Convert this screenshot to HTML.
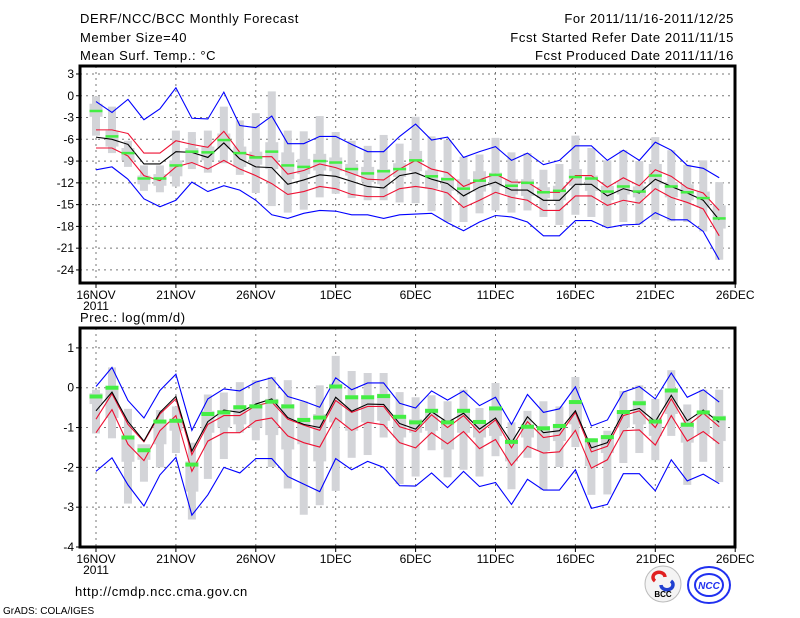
<!DOCTYPE html>
<html><head><meta charset="utf-8">
<style>
body{margin:0;background:#fff;}
svg{display:block;font-family:"Liberation Sans",sans-serif;}
text{font-size:12px;fill:#000;}
.hd{font-size:13px;letter-spacing:0.6px;}
</style></head>
<body>
<svg id="chart" width="800" height="618" viewBox="0 0 800 618">
<g>
<text class="hd" x="80" y="23">DERF/NCC/BCC Monthly Forecast</text>
<text class="hd" x="80" y="42">Member Size=40</text>
<text class="hd" x="80" y="60">Mean Surf. Temp.: °C</text>
<text class="hd" x="734" y="23" text-anchor="end">For 2011/11/16-2011/12/25</text>
<text class="hd" x="734" y="42" text-anchor="end">Fcst Started Refer Date 2011/11/15</text>
<text class="hd" x="734" y="60" text-anchor="end">Fcst Produced Date 2011/11/16</text>
<text class="hd" x="80" y="322">Prec.: log(mm/d)</text>
<text x="75" y="596" style="font-size:13px;letter-spacing:0.6px">http://cmdp.ncc.cma.gov.cn</text>
<text x="3" y="614" style="font-size:10px">GrADS: COLA/IGES</text>
</g>
<g>
<circle cx="663" cy="584" r="18" fill="#f4f4f4" stroke="#bbb"/>
<path d="M655 581 a6 5 0 1 1 10 -4" fill="none" stroke="#e02020" stroke-width="3.5"/>
<path d="M671 581 a6 5 0 1 1 -10 4" fill="none" stroke="#2040d0" stroke-width="3.5"/>
<text x="663" y="597" text-anchor="middle" style="font-size:8px;font-weight:bold">BCC</text>
<ellipse cx="709" cy="585" rx="21" ry="18" fill="#fff" stroke="#2030f0" stroke-width="2"/>
<ellipse cx="709" cy="585" rx="14" ry="11" fill="none" stroke="#2030f0" stroke-width="2"/>
<text x="709" y="589" text-anchor="middle" style="font-size:10px;font-weight:bold;fill:#2030f0;font-style:italic">NCC</text>
</g>
</svg>
<script>
// ---- Top panel data (°C) ----
const days = ["16NOV","21NOV","26NOV","1DEC","6DEC","11DEC","16DEC","21DEC","26DEC"];
const tTicks = [3,0,-3,-6,-9,-12,-15,-18,-21,-24];
const tMax = [-0.8,-2.3,-0.5,-3.3,-1.8,1.1,-3.1,-3.2,0.5,-4.1,-4.4,-2.8,-6.6,-6.6,-5.6,-5.6,-6.7,-7.7,-7.7,-5.6,-3.9,-6.1,-5.7,-8.5,-7.7,-7.0,-8.9,-7.9,-9.5,-8.9,-6.9,-6.9,-8.9,-7.5,-8.9,-6.4,-7.5,-9.6,-10.0,-11.3];
const tMin = [-10.2,-9.8,-11.5,-14.2,-15.3,-14.4,-11.9,-13.2,-12.4,-13.0,-14.4,-16.4,-16.9,-16.2,-15.8,-15.9,-16.4,-16.4,-16.9,-16.4,-16.3,-16.2,-17.5,-18.6,-17.4,-16.5,-16.7,-17.4,-19.3,-19.3,-17.2,-17.2,-18.2,-17.8,-17.7,-16.1,-17.1,-17.1,-18.7,-22.6];
const tMean = [-5.7,-6.0,-6.7,-9.4,-9.4,-7.7,-7.8,-8.5,-6.5,-8.7,-9.8,-9.9,-12.2,-11.6,-10.9,-11.1,-11.8,-12.5,-12.7,-11.0,-10.6,-11.5,-12.1,-13.8,-12.6,-11.9,-13.0,-13.0,-14.4,-14.4,-12.2,-12.2,-13.8,-12.8,-13.4,-11.5,-12.5,-13.4,-14.4,-17.1];
const tUp = [-4.7,-4.7,-5.2,-7.9,-7.9,-6.2,-6.7,-7.1,-4.9,-7.8,-8.4,-8.4,-10.8,-10.3,-9.4,-9.9,-10.7,-11.5,-11.6,-10.1,-8.9,-10.1,-10.6,-12.5,-11.6,-10.8,-11.9,-11.9,-13.3,-13.3,-11.0,-11.0,-12.6,-11.3,-12.4,-10.2,-11.1,-12.7,-13.4,-15.8];
const tLo = [-7.2,-7.2,-8.3,-11.0,-11.7,-9.8,-9.2,-10.1,-8.9,-10.1,-11.0,-12.1,-13.6,-13.2,-12.5,-12.8,-13.6,-13.9,-13.9,-12.8,-12.5,-12.8,-13.4,-15.4,-14.4,-13.3,-14.0,-14.4,-15.8,-15.8,-13.8,-13.8,-15.1,-14.4,-14.8,-12.8,-14.0,-14.7,-15.6,-19.3];
const tGreen = [-2.1,-5.6,-7.9,-11.4,-11.4,-9.6,-7.7,-7.8,-6.1,-7.9,-8.5,-7.7,-9.6,-9.8,-9.0,-9.2,-10.1,-10.7,-10.4,-10.1,-8.9,-11.1,-11.5,-12.8,-11.7,-10.9,-12.4,-12.0,-13.3,-13.1,-11.2,-11.4,-13.2,-12.5,-13.2,-11.0,-12.5,-13.3,-14.1,-16.9];
const tBarHi = [-0.1,-1.5,-6.2,-9.6,-9.6,-4.8,-5.0,-4.8,-1.5,-3.4,-2.4,0.6,-4.8,-4.9,-2.8,-5.0,-6.2,-6.9,-5.4,-6.6,-2.9,-5.6,-6.1,-8.4,-8.1,-5.8,-7.8,-7.9,-10.2,-9.4,-5.5,-7.2,-8.9,-7.5,-9.0,-5.7,-7.5,-9.5,-8.9,-11.9];
const tBarLo = [-5.5,-7.9,-9.8,-13.1,-13.3,-12.5,-10.1,-10.6,-9.3,-10.9,-13.4,-15.2,-16.1,-15.7,-14.0,-13.5,-14.1,-14.4,-14.4,-14.7,-14.8,-15.9,-17.4,-17.4,-16.2,-15.8,-16.1,-15.8,-16.7,-17.8,-16.4,-16.7,-18.1,-17.4,-17.7,-17.1,-17.3,-17.4,-18.7,-22.6];
const tBoxHi = [-1.1,-4.8,-7.2,-11.0,-10.8,-8.9,-7.2,-7.0,-5.2,-7.0,-7.7,-6.4,-7.8,-8.7,-8.0,-8.5,-9.4,-9.8,-10.1,-9.3,-7.6,-10.3,-11.2,-11.5,-10.4,-10.6,-11.5,-11.5,-12.6,-12.4,-10.1,-11.0,-12.4,-11.7,-12.5,-9.4,-11.9,-12.2,-13.2,-15.1];
const tBoxLo = [-2.9,-7.0,-8.9,-12.2,-12.4,-11.1,-9.4,-8.9,-7.3,-9.8,-9.5,-10.1,-11.5,-10.8,-10.3,-10.4,-11.0,-11.9,-12.2,-11.2,-10.4,-12.8,-13.1,-13.6,-13.2,-12.5,-13.6,-13.8,-14.1,-14.4,-12.4,-13.1,-14.4,-13.6,-14.0,-12.2,-14.0,-14.4,-15.4,-18.3];
// ---- Bottom panel data (log mm/d) ----
const pTicks = [1,0,-1,-2,-3,-4];
const pMax = [0.03,0.51,-0.32,-0.76,-0.07,0.34,-1.07,-0.28,-0.03,-0.08,0.14,0.25,-0.22,-0.34,-0.49,0.25,-0.05,0.12,0.12,-0.39,-0.51,-0.08,-0.31,-0.08,-0.45,-0.24,-0.92,-0.17,-0.62,-0.53,0.02,-0.96,-0.81,-0.11,0.03,-0.28,0.37,-0.24,-0.05,-0.36];
const pMin = [-2.10,-1.76,-2.44,-2.97,-2.19,-1.75,-3.20,-2.69,-2.00,-2.14,-1.78,-1.78,-2.23,-2.42,-2.61,-1.78,-2.06,-1.85,-2.00,-2.46,-2.47,-2.14,-2.51,-2.10,-2.48,-2.38,-2.93,-2.30,-2.57,-2.57,-2.06,-3.03,-2.93,-2.16,-2.16,-2.59,-1.81,-2.34,-2.17,-2.41];
const pMean = [-0.58,-0.11,-0.85,-1.34,-0.62,-0.22,-1.59,-0.85,-0.56,-0.62,-0.41,-0.28,-0.75,-0.92,-1.00,-0.24,-0.59,-0.41,-0.42,-0.90,-1.04,-0.60,-0.87,-0.64,-1.04,-0.76,-1.38,-0.73,-1.13,-1.08,-0.58,-1.51,-1.38,-0.62,-0.52,-0.85,-0.19,-0.83,-0.56,-0.87];
const pUp = [-0.79,-0.15,-0.92,-1.36,-0.66,-0.28,-1.68,-0.92,-0.70,-0.70,-0.45,-0.36,-0.79,-0.94,-1.07,-0.32,-0.62,-0.47,-0.47,-0.98,-1.10,-0.68,-1.00,-0.70,-1.13,-0.81,-1.51,-0.85,-1.25,-1.19,-0.62,-1.61,-1.47,-0.70,-0.58,-1.00,-0.28,-0.96,-0.64,-0.98];
const pLo = [-1.13,-0.55,-1.42,-1.83,-1.08,-0.70,-2.10,-1.34,-1.13,-1.13,-0.83,-0.76,-1.21,-1.38,-1.49,-0.76,-1.07,-0.87,-0.93,-1.38,-1.51,-1.13,-1.41,-1.10,-1.53,-1.30,-1.95,-1.47,-1.64,-1.61,-1.07,-2.02,-1.81,-1.08,-1.06,-1.44,-0.70,-1.34,-1.10,-1.41];
const pGreen = [-0.22,0.0,-1.25,-1.57,-0.85,-0.83,-1.93,-0.66,-0.62,-0.49,-0.47,-0.35,-0.47,-0.81,-0.75,0.03,-0.24,-0.24,-0.21,-0.73,-0.87,-0.58,-0.87,-0.58,-0.86,-0.52,-1.36,-0.98,-1.02,-0.96,-0.36,-1.32,-1.24,-0.61,-0.39,-0.85,-0.07,-0.93,-0.62,-0.77];
const pBarHi = [-0.05,0.51,-0.53,-1.55,-0.56,-0.47,-1.38,-0.17,-0.12,0.14,0.19,0.27,0.19,-0.34,0.06,0.8,0.42,0.37,0.37,-0.11,-0.24,-0.19,-0.34,-0.05,-0.51,0.12,-0.87,-0.58,-0.34,-0.47,0.27,-1.27,-1.08,-0.08,0.06,-0.28,0.44,-0.42,-0.05,-0.05];
const pBarLo = [-1.15,-1.27,-2.91,-2.36,-2.0,-1.64,-3.31,-2.29,-1.79,-1.13,-1.32,-1.99,-2.53,-3.19,-2.95,-2.59,-1.76,-1.69,-1.25,-2.42,-2.23,-1.57,-2.25,-2.06,-2.23,-1.72,-2.55,-1.76,-2.57,-1.99,-1.49,-2.69,-2.68,-1.89,-1.64,-1.82,-1.21,-2.44,-1.86,-2.37];
const pBoxHi = [-0.14,0.02,-1.24,-1.42,-0.81,-0.79,-1.85,-0.58,-0.56,-0.45,-0.41,-0.28,-0.41,-0.75,-0.66,0.1,-0.19,-0.19,-0.15,-0.7,-0.79,-0.53,-0.79,-0.53,-0.83,-0.47,-1.3,-0.92,-0.96,-0.92,-0.32,-1.3,-1.21,-0.58,-0.32,-0.76,-0.03,-0.87,-0.58,-0.7];
const pBoxLo = [-0.41,-0.76,-1.86,-1.81,-1.42,-1.08,-2.61,-1.13,-1.0,-0.92,-1.0,-1.19,-1.55,-1.42,-1.85,-0.87,-1.08,-0.87,-0.83,-1.25,-1.13,-1.08,-1.55,-1.13,-1.25,-1.21,-1.85,-1.25,-1.59,-1.34,-0.92,-1.97,-1.64,-1.0,-0.92,-1.21,-0.66,-1.38,-1.17,-1.34];

const NS='http://www.w3.org/2000/svg';
const svg=document.getElementById('chart');
function mk(tag,attrs,parent){const e=document.createElementNS(NS,tag);for(const k in attrs)e.setAttribute(k,attrs[k]);(parent||svg).appendChild(e);return e;}
const X0=80,X1=735;
function xDay(d){return 96+d*15.98;}

function panel(name,top,bottom,vTop,vBot,ticks,tickFmt,s,greenH){
  const g=mk('g',{});
  
  
  const y=v=>top+(vTop-v)/(vTop-vBot)*(bottom-top);
  ticks.forEach(t=>{
    const l=mk('line',{x1:X0,x2:X1,y1:y(t),y2:y(t),stroke:'#777','stroke-dasharray':'2,4'},g);
    
    
    const tk=mk('line',{x1:X0-4,x2:X0,y1:y(t),y2:y(t),stroke:'#000'},g);
    
    
    const tx=mk('text',{x:X0-6,y:y(t)+4,'text-anchor':'end'},g);
    tx.textContent=tickFmt(t);
    
    
  });
  days.forEach((dn,i)=>{
    const xx=xDay(i*5);
    if(i<days.length-1){
      const l=mk('line',{x1:xx,x2:xx,y1:top,y2:bottom,stroke:'#777','stroke-dasharray':'2,4'},g);
      
      
    }
    const tk=mk('line',{x1:xx,x2:xx,y1:bottom,y2:bottom+5,stroke:'#000'},g);
    
    
    const tx=mk('text',{x:xx,y:bottom+16,'text-anchor':'middle','font-size':'11'},g);
    tx.textContent=dn;
    
    
  });
  const yr=mk('text',{x:xDay(0),y:bottom+27,'text-anchor':'middle','font-size':'11'},g);
  yr.textContent='2011';
  
  
  s.barHi.forEach((v,i)=>{
    const xx=xDay(i);
    const b=mk('rect',{x:xx-4,y:y(v),width:8,height:Math.max(1,y(s.barLo[i])-y(v)),fill:'#d3d4d8'},g);
    
    
    const bx=mk('rect',{x:xx-6.5,y:y(s.boxHi[i]),width:13,height:Math.max(1,y(s.boxLo[i])-y(s.boxHi[i])),fill:'#d3d4d8'},g);
    
    
  });
  const line=(arr,col,nm)=>{
    const p=mk('polyline',{points:arr.map((v,i)=>xDay(i)+','+y(v)).join(' '),fill:'none',stroke:col,'stroke-width':1.1},g);
    
    
  };
  line(s.max,'#0000ff','max-line');
  line(s.min,'#0000ff','min-line');
  line(s.up,'#ee1133','upper-line');
  line(s.lo,'#ee1133','lower-line');
  line(s.mean,'#000000','mean-line');
  s.green.forEach((v,i)=>{
    const r=mk('rect',{x:xDay(i)-6.5,y:y(v)-greenH/2,width:13,height:greenH,fill:'#44ee44'},g);
    
    
  });
  const fr=mk('rect',{x:X0,y:top,width:X1-X0,height:bottom-top,fill:'none',stroke:'#000','stroke-width':3},g);
  
  
}
panel('temperature-panel',66,283,4.1,-25.8,tTicks,t=>String(t),
  {max:tMax,min:tMin,mean:tMean,up:tUp,lo:tLo,green:tGreen,barHi:tBarHi,barLo:tBarLo,boxHi:tBoxHi,boxLo:tBoxLo},2.5);
panel('precip-panel',328,547,1.5,-4,pTicks,t=>String(t),
  {max:pMax,min:pMin,mean:pMean,up:pUp,lo:pLo,green:pGreen,barHi:pBarHi,barLo:pBarLo,boxHi:pBoxHi,boxLo:pBoxLo},4);
</script>
</body></html>
